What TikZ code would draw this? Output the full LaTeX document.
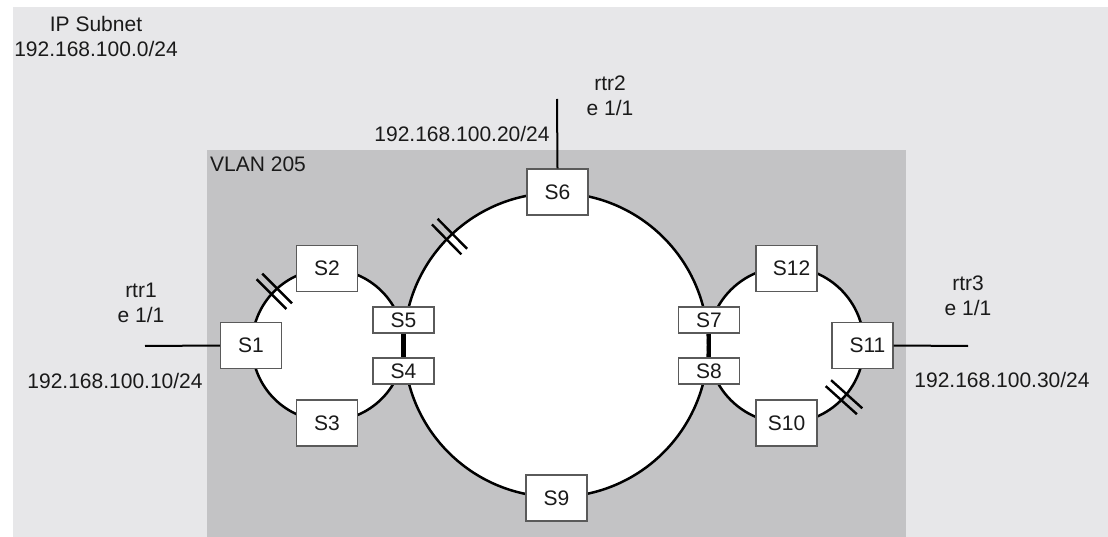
\documentclass[tikz,border=0pt]{standalone}
\usepackage{fontspec}
\setmainfont{Liberation Sans}
\usetikzlibrary{calc}
\definecolor{outerbg}{HTML}{E7E7E9}
\definecolor{vlanbg}{HTML}{C3C3C5}
\definecolor{boxline}{HTML}{5A5A5A}
\definecolor{txt}{HTML}{1A1A1A}
\begin{document}
\begin{tikzpicture}[x=1pt,y=-1pt,
  every node/.style={font=\fontsize{21}{25}\selectfont, text=txt},
  sw/.style={draw=boxline, line width=1.4pt, fill=white, minimum width=61pt, minimum height=46pt, inner sep=0pt},
  swthin/.style={sw, minimum height=26pt},
  ringfill/.style={fill=white},
  ring/.style={draw=black, line width=2.5pt},
  link/.style={draw=black, line width=2pt},
  tie/.style={draw=black, line width=4.5pt},
  brk/.style={draw=black, line width=2.4pt},
  lbl/.style={align=center, inner sep=0pt}]
\useasboundingbox (0,0) rectangle (1108,537);
% backgrounds
\fill[white] (0,0) rectangle (1108,537);
\fill[outerbg] (13,7) rectangle (1108,537);
\fill[vlanbg] (207,150) rectangle (906,537);
% ring centres
\coordinate (cL) at (328,345);
\coordinate (cB) at (556,345);
\coordinate (cR) at (786,345);
\fill[ringfill] (cL) circle[radius=76pt];
\fill[ringfill] (cB) circle[radius=152pt];
\fill[ringfill] (cR) circle[radius=78pt];
\draw[ring] (cL) circle[radius=76pt];
\draw[ring] (cB) circle[radius=152pt];
\draw[ring] (cR) circle[radius=78pt];
% labels
\node[lbl] (ipsub) at (96,36) {IP Subnet\\192.168.100.0/24};
\node[lbl, anchor=west] (vlan) at (210,164) {VLAN 205};
\node[lbl] (rtr1) at (141,302.5) {rtr1\\e 1/1};
\node[lbl] (rtr2) at (610,95.5) {rtr2\\e 1/1};
\node[lbl] (rtr3) at (968,295.5) {rtr3\\e 1/1};
\node[lbl] (ip10) at (115,381) {192.168.100.10/24};
\node[lbl] (ip20) at (462,134) {192.168.100.20/24};
\node[lbl] (ip30) at (1002,380) {192.168.100.30/24};
% switches
\node[sw] (S1) at (251,345.5) {S1};
\node[sw] (S2) at (327,268.5) {S2};
\node[sw] (S3) at (327,423) {S3};
\node[swthin] (S5) at (403.5,320) {S5};
\node[swthin] (S4) at (403.5,371) {S4};
\node[sw] (S6) at (557.5,192) {S6};
\node[sw] (S9) at (556.5,498) {S9};
\node[swthin] (S7) at (709,320) {S7};
\node[swthin] (S8) at (709,371) {S8};
\node[sw] (S12) at (786.5,268.5) {\hspace*{10pt}S12};
\node[sw] (S11) at (862.5,345.5) {\hspace*{10pt}S11};
\node[sw] (S10) at (786.5,423) {S10};
% links
\draw[tie] (S5.south) -- (S4.north);
\draw[tie] (S7.south) -- (S8.north);
\coordinate (r1end) at (145,346);
\coordinate (r2end) at (557,99);
\coordinate (r3end) at (968,346);
\draw[link] (r1end) -- (S1.west);
\draw[link] (r2end) -- (S6.north);
\draw[link] (S11.east) -- (r3end);
% blocked-port marks
\coordinate (mL) at (274.3,291.3);
\draw[brk] ($(mL)+(225:21)+(315:4)$) -- ($(mL)+(45:21)+(315:4)$);
\draw[brk] ($(mL)+(225:21)+(135:4)$) -- ($(mL)+(45:21)+(135:4)$);
\coordinate (mB) at (449.5,236.6);
\draw[brk] ($(mB)+(225.5:21)+(315.5:4)$) -- ($(mB)+(45.5:21)+(315.5:4)$);
\draw[brk] ($(mB)+(225.5:21)+(135.5:4)$) -- ($(mB)+(45.5:21)+(135.5:4)$);
\coordinate (mR) at (844,397.2);
\draw[brk] ($(mR)+(42:21)+(132:4)$) -- ($(mR)+(222:21)+(132:4)$);
\draw[brk] ($(mR)+(42:21)+(312:4)$) -- ($(mR)+(222:21)+(312:4)$);
\end{tikzpicture}
\end{document}
